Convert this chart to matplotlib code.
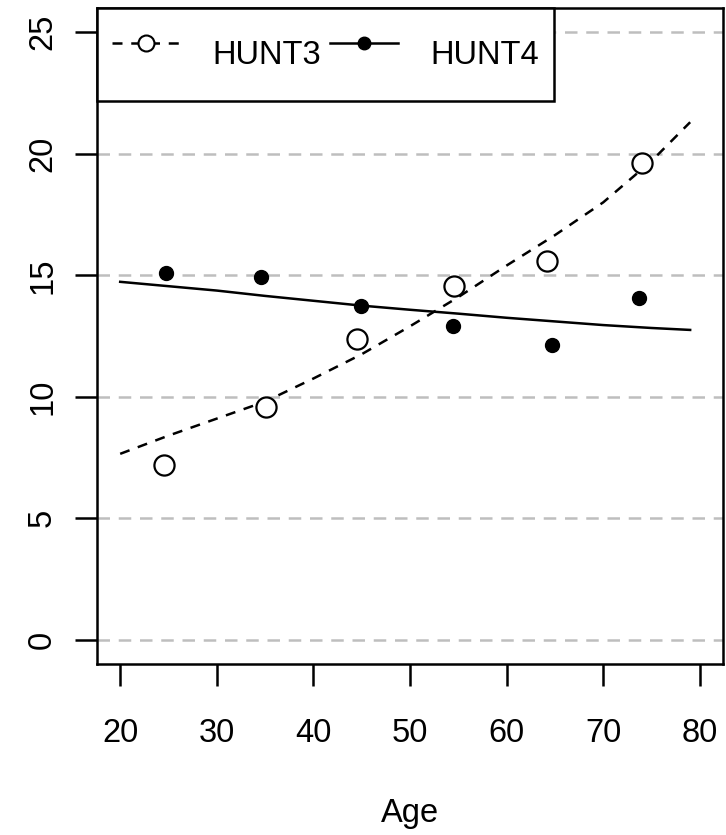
import matplotlib
matplotlib.use("Agg")
import matplotlib.pyplot as plt

plt.rcParams['font.family'] = ['Liberation Sans', 'DejaVu Sans']

# observed points
age3 = [24.5, 35.1, 44.5, 54.6, 64.2, 74.0]
hunt3 = [7.2, 9.57, 12.38, 14.57, 15.6, 19.61]
age4 = [24.7, 34.6, 44.9, 54.5, 64.7, 73.7]
hunt4 = [15.08, 14.94, 13.75, 12.92, 12.14, 14.05]

# fitted curves
fit_age = [20, 25, 30, 35, 40, 45, 50, 55, 60, 65, 70, 75, 79]
fit3 = [7.65, 8.4, 9.1, 9.8, 10.75, 11.75, 12.9, 14.1, 15.4, 16.65, 18.0, 19.7, 21.3]
fit4 = [14.73, 14.55, 14.37, 14.15, 13.95, 13.75, 13.58, 13.42, 13.25, 13.1, 12.95, 12.83, 12.75]

names = ['HUNT3', 'HUNT4']
xticks = [20, 30, 40, 50, 60, 70, 80]
yticks = [0, 5, 10, 15, 20, 25]

W, H = 726, 835
fig = plt.figure(figsize=(W / 100, H / 100), dpi=100)
ax = fig.add_axes([97 / W, 1 - 664 / H, 626 / W, 656 / H])

for y in yticks:
    ax.axhline(y, color='#BEBEBE', lw=1.8, dashes=(5, 3.5), zorder=0)

ax.plot(fit_age, fit3, color='black', lw=1.8, dashes=(4, 3.5))
ax.plot(fit_age, fit4, color='black', lw=1.8)
ax.plot(age3, hunt3, 'o', ms=14.5, mfc='white', mec='black', mew=1.6)
ax.plot(age4, hunt4, 'o', ms=10, mfc='black', mec='black')

ax.set_xlim(17.6, 82.4)
ax.set_ylim(-1.0, 26.0)
ax.set_xticks(xticks)
ax.set_yticks(yticks)
ax.tick_params(axis='both', length=16, width=1.8, labelsize=23.5, direction='out')
ax.tick_params(axis='x', pad=23)
ax.tick_params(axis='y', pad=12)
for lab in ax.get_yticklabels():
    lab.set_rotation(90)
    lab.set_va('center')
for s in ax.spines.values():
    s.set_linewidth(1.8)

ax.set_xlabel('Age', fontsize=23.5, labelpad=35)

# legend
h3 = plt.Line2D([], [], color='black', lw=1.8, dashes=(4, 3.5), marker='o',
                ms=11.5, mfc='white', mec='black', mew=1.5)
h4 = plt.Line2D([], [], color='black', lw=1.8, marker='o', ms=9,
                mfc='black', mec='black')
leg = ax.legend([h3, h4], names, loc='upper left', bbox_to_anchor=(0, 1),
                borderaxespad=0, ncol=2, fontsize=23.5, frameon=True,
                fancybox=False, edgecolor='black', framealpha=1,
                handlelength=2.1, handletextpad=1.0, columnspacing=0.25,
                handleheight=2.6, borderpad=0.45)
leg.get_frame().set_linewidth(1.8)
leg.set_zorder(5)

fig.savefig('out.png', dpi=100)
